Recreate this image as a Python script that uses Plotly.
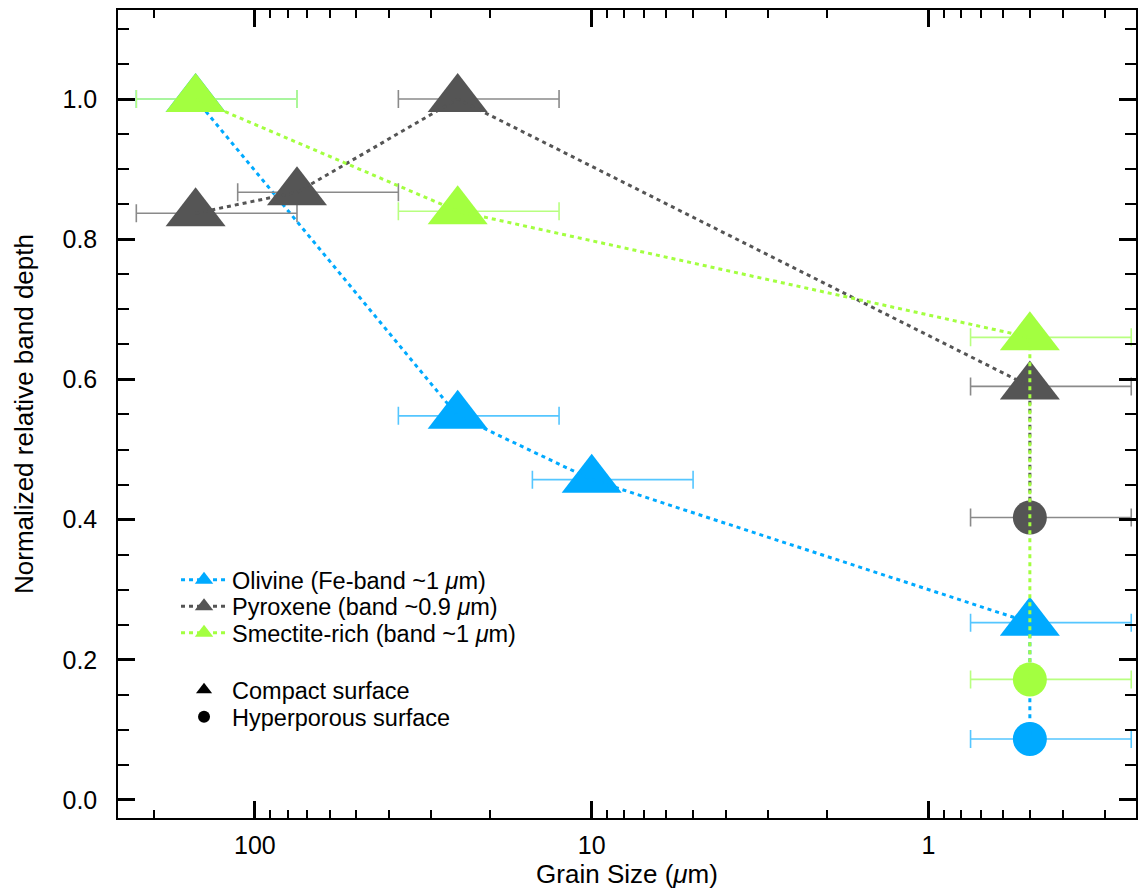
import plotly.graph_objects as go
import math

# ---- data ----
oliv_x = [150, 25, 10, 0.5, 0.5]
oliv_y = [1.0, 0.548, 0.457, 0.253, 0.087]
oliv_xerr = [75, 12.5, 5, 0.25, 0.25]
oliv_sym = ["triangle-up", "triangle-up", "triangle-up", "triangle-up", "circle"]

pyro_x = [150, 75, 25, 0.5, 0.5]
pyro_y = [0.837, 0.867, 1.0, 0.590, 0.403]
pyro_xerr = [75, 37.5, 12.5, 0.25, 0.25]
pyro_sym = ["triangle-up", "triangle-up", "triangle-up", "triangle-up", "circle"]

smec_x = [150, 25, 0.5, 0.5]
smec_y = [1.0, 0.840, 0.660, 0.172]
smec_xerr = [75, 12.5, 0.25, 0.25]
smec_sym = ["triangle-up", "triangle-up", "triangle-up", "circle"]

names = ["Olivine (Fe-band ~1 <i>μ</i>m)",
         "Pyroxene (band ~0.9 <i>μ</i>m)",
         "Smectite-rich (band ~1 <i>μ</i>m)"]
surface_names = ["Compact surface", "Hyperporous surface"]
colors = ["#00aaff", "#555555", "#a3ff40"]
err_colors = ["#55c6ff", "#8a8a8a", "#b8ff80"]

FONT = "Liberation Sans, Arial, Helvetica, sans-serif"
TICK_FS = 25
TEXT_FS = 26
LEG_FS = 23.5

fig = go.Figure()

series = [(oliv_x, oliv_y, oliv_xerr, oliv_sym),
          (pyro_x, pyro_y, pyro_xerr, pyro_sym),
          (smec_x, smec_y, smec_xerr, smec_sym)]

# each series: markers with error bars, then its dotted line on top
for (xs, ys, xe, sy), c, ec in zip(series, colors, err_colors):
    sizes = [34 if s == "circle" else 52 for s in sy]
    fig.add_trace(go.Scatter(
        x=xs, y=ys, mode="markers",
        marker=dict(symbol=sy, size=sizes, color=c, opacity=1, line=dict(width=0)),
        error_x=dict(type="data", symmetric=True, array=xe, color=ec,
                     thickness=1.6, width=9),
        showlegend=False, hoverinfo="skip"))
    fig.add_trace(go.Scatter(
        x=xs, y=ys, mode="lines",
        line=dict(color=c, width=3, dash="4px,4px"),
        showlegend=False, hoverinfo="skip"))

# plot area (page px): x 118..1138, y 10..818
def ypos(page_y):
    return (818 - page_y) / 808.0

legend_rows = [580, 606.5, 633, 690, 717]
LEG_X = 0.057

for i, (n, c) in enumerate(zip(names, colors)):
    lg = "legend" if i == 0 else f"legend{i + 1}"
    fig.add_trace(go.Scatter(
        x=[None], y=[None], mode="lines+markers", name=n,
        line=dict(color=c, width=3, dash="4px,4px"),
        marker=dict(symbol="triangle-up", size=18, color=c),
        legend=lg))

for j, (n, s, sz) in enumerate(zip(surface_names, ["triangle-up", "circle"], [14, 12])):
    lg = f"legend{4 + j}"
    fig.add_trace(go.Scatter(
        x=[None], y=[None], mode="markers", name=n,
        marker=dict(symbol=s, size=sz, color="black"),
        legend=lg))

legend_layout = {}
for k, yy in enumerate(legend_rows):
    key = "legend" if k == 0 else f"legend{k + 1}"
    legend_layout[key] = dict(x=LEG_X, y=ypos(yy), xanchor="left", yanchor="middle",
                              bgcolor="rgba(0,0,0,0)", borderwidth=0,
                              font=dict(family=FONT, size=LEG_FS, color="black"),
                              itemwidth=46)

axis_common = dict(showline=True, linecolor="black", linewidth=1.5, mirror="allticks",
                   ticks="inside", tickcolor="black", tickwidth=2.5,
                   showgrid=False, zeroline=False,
                   tickfont=dict(family=FONT, size=TICK_FS, color="black"))

fig.update_xaxes(type="log",
                 range=[math.log10(255), math.log10(0.242)],
                 tickvals=[100, 10, 1], ticktext=["100", "10", "1"],
                 ticklen=17, ticklabelstandoff=4,
                 minor=dict(ticks="inside", ticklen=8, tickwidth=1.5, tickcolor="black",
                            dtick="D1", showgrid=False),
                 title=dict(text="Grain Size (<i>μ</i>m)",
                            font=dict(family=FONT, size=TEXT_FS, color="black"),
                            standoff=0),
                 **axis_common)
fig.update_yaxes(range=[-0.0257, 1.127],
                 tickvals=[0, 0.2, 0.4, 0.6, 0.8, 1.0],
                 ticktext=["0.0", "0.2", "0.4", "0.6", "0.8", "1.0"],
                 ticklen=17, ticklabelstandoff=14,
                 minor=dict(ticks="inside", ticklen=11, tickwidth=2, tickcolor="black",
                            dtick=0.05, showgrid=False),
                 title=dict(text="Normalized relative band depth",
                            font=dict(family=FONT, size=TEXT_FS, color="black"), standoff=21),
                 **axis_common)

fig.update_layout(
    width=1139, height=891,
    margin=dict(l=118, r=1, t=10, b=73),
    plot_bgcolor="white", paper_bgcolor="white",
    font=dict(family=FONT, size=TEXT_FS, color="black"),
    **legend_layout,
)

fig.write_html("out.html",
               config={"displayModeBar": False},
               post_script="document.body.style.margin='0';document.body.style.overflow='hidden';")
